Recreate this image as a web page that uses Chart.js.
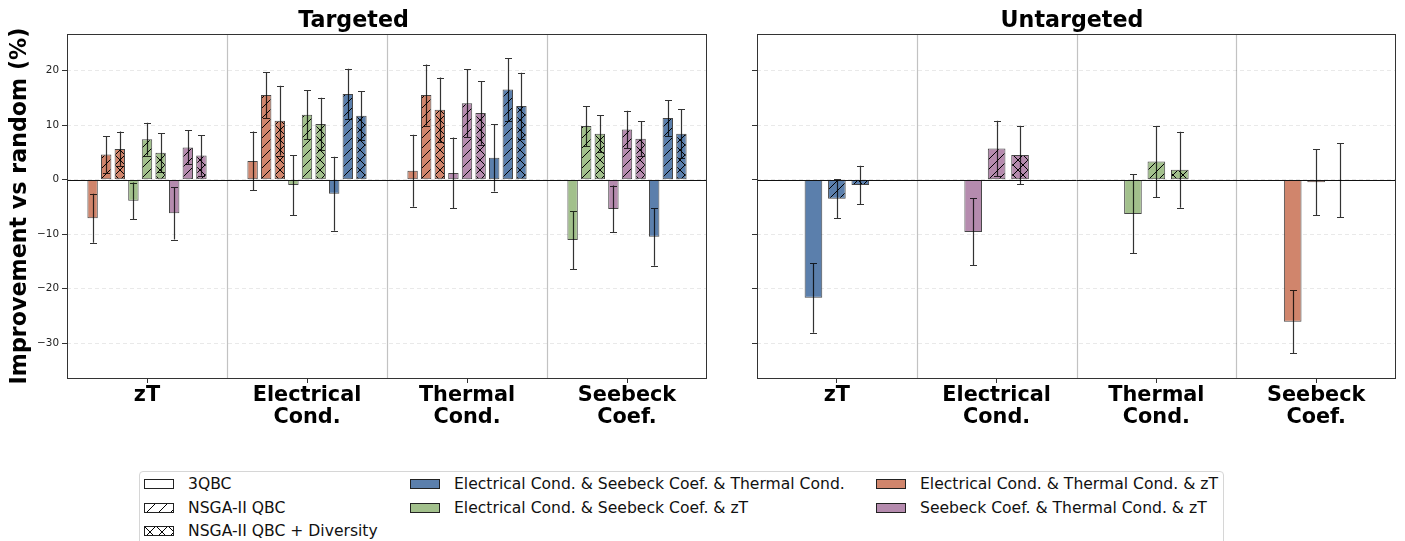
<!DOCTYPE html>
<html>
<head>
<meta charset="utf-8">
<script src="https://cdn.jsdelivr.net/npm/chart.js@4.4.1/dist/chart.umd.min.js"></script>
<style>
  html, body { margin: 0; padding: 0; background: #fff; }
  body { width: 1405px; height: 541px; position: relative; overflow: hidden; font-family: 'DejaVu Sans', sans-serif; }
  .panel { position: absolute; top: 0; height: 450px; }
  #legend {
    position: absolute; left: 139px; top: 471px; width: 1083px; height: 90px;
    border: 1px solid #d6d6d6; border-radius: 4px; background: #fff;
  }
  .item { position: absolute; height: 20px; font-size: 15.6px; color: #111; white-space: nowrap; }
  .item canvas { position: absolute; left: 0; top: 5px; }
  .item span { position: absolute; left: 44px; top: 0; line-height: 20px; }
</style>
</head>
<body>
<div class="panel" style="left:0; width:774px;"><canvas id="targeted"></canvas></div>
<div class="panel" style="left:748px; width:657px;"><canvas id="untargeted"></canvas></div>
<div id="legend"></div>
<script>
// Groupes (cibles) et méthodes
const groupLabels = [['zT'], ['Electrical', 'Cond.'], ['Thermal', 'Cond.'], ['Seebeck', 'Coef.']];
const methodNames = ['3QBC', 'NSGA-II QBC', 'NSGA-II QBC + Diversity'];
const comboNames = [
  'Electrical Cond. & Thermal Cond. & zT',
  'Electrical Cond. & Seebeck Coef. & zT',
  'Seebeck Coef. & Thermal Cond. & zT',
  'Electrical Cond. & Seebeck Coef. & Thermal Cond.',
];
const comboColors = ['#d0856c', '#a2c08c', '#b58bae', '#5b7fac'];
const methodHatches = ['', '/', 'x'];

const yTicks = [-30, -20, -10, 0, 10, 20];
const yMin = -36.4;
const yMax = 26.7;

// Targeted — lignes = méthodes, colonnes = zT, Electrical, Thermal, Seebeck
const tgtEcTcZt = [[-7.1, 3.4, 1.6, null], [4.6, 15.5, 15.5, null], [5.6, 10.8, 12.8, null]];
const tgtEcTcZtErr = [[4.5, 5.4, 6.6, null], [3.35, 4.2, 5.6, null], [3.2, 6.4, 5.9, null]];
const tgtEcScZt = [[-3.9, -1.0, null, -11.1], [7.4, 11.9, null, 9.8], [4.9, 10.2, null, 8.4]];
const tgtEcScZtErr = [[3.35, 5.5, null, 5.3], [3.0, 4.5, null, 3.7], [3.6, 4.8, null, 3.4]];
const tgtScTcZt = [[-6.2, null, 1.2, -5.4], [5.9, null, 14.0, 9.2], [4.4, null, 12.2, 7.5]];
const tgtScTcZtErr = [[4.8, null, 6.5, 4.3], [3.1, null, 6.2, 3.4], [3.7, null, 5.8, 3.2]];
const tgtEcScTc = [[null, -2.6, 4.0, -10.5], [null, 15.7, 16.5, 11.3], [null, 11.7, 13.5, 8.4]];
const tgtEcScTcErr = [[null, 6.8, 6.2, 5.3], [null, 4.6, 5.8, 3.3], [null, 4.5, 6.1, 4.5]];

// Untargeted
const untEcTcZt = [[null, null, null, -26.1], [null, null, null, -0.5], [null, null, null, -0.1]];
const untEcTcZtErr = [[null, null, null, 5.8], [null, null, null, 6.05], [null, null, null, 6.8]];
const untEcScZt = [[null, null, -6.3, null], [null, null, 3.3, null], [null, null, 1.8, null]];
const untEcScZtErr = [[null, null, 7.25, null], [null, null, 6.5, null], [null, null, 6.95, null]];
const untScTcZt = [[null, -9.6, null, null], [null, 5.7, null, null], [null, 4.5, null, null]];
const untScTcZtErr = [[null, 6.15, null, null], [null, 5.1, null, null], [null, 5.35, null, null]];
const untEcScTc = [[-21.7, null, null, null], [-3.5, null, null, null], [-1.0, null, null, null]];
const untEcScTcErr = [[6.4, null, null, null], [3.6, null, null, null], [3.55, null, null, null]];

const FONT = "'DejaVu Sans', sans-serif";

// Motif de remplissage hachuré (façon matplotlib)
function makeFill(color, hatch, size = 10) {
  const c = document.createElement('canvas');
  c.width = c.height = size;
  const g = c.getContext('2d');
  g.fillStyle = color;
  g.fillRect(0, 0, size, size);
  if (!hatch) return g.createPattern(c, 'repeat');
  g.strokeStyle = '#000';
  g.lineWidth = 1;
  g.beginPath();
  for (const k of [-size, 0, size]) {
    g.moveTo(k - 1, size + 1);
    g.lineTo(k + size + 1, -1);
    if (hatch === 'x') {
      g.moveTo(k - 1, -1);
      g.lineTo(k + size + 1, size + 1);
    }
  }
  g.stroke();
  return g.createPattern(c, 'repeat');
}

function buildDatasets(means, errs) {
  const sets = [];
  comboNames.forEach((combo, c) => {
    methodNames.forEach((method, m) => {
      sets.push({
        label: combo + ' | ' + method,
        data: means[c][m],
        errors: errs[c][m],
        backgroundColor: makeFill(comboColors[c], methodHatches[m]),
        borderColor: 'rgba(0,0,0,0.72)',
        borderWidth: 1,
        borderSkipped: false,
      });
    });
  });
  return sets;
}

// Séparateurs, ligne zéro, barres d'erreur, cadre
const panelDecor = {
  id: 'panelDecor',
  beforeDatasetsDraw(chart) {
    const { ctx, chartArea: a, scales: { x } } = chart;
    ctx.save();
    ctx.strokeStyle = 'rgba(0,0,0,0.24)';
    ctx.lineWidth = 1.2;
    for (let i = 0; i < groupLabels.length - 1; i++) {
      const px = Math.round((x.getPixelForValue(i) + x.getPixelForValue(i + 1)) / 2) + 0.5;
      ctx.beginPath();
      ctx.moveTo(px, a.top);
      ctx.lineTo(px, a.bottom);
      ctx.stroke();
    }
    ctx.restore();
  },
  afterDatasetsDraw(chart) {
    const { ctx, chartArea: a, scales: { y } } = chart;
    ctx.save();
    const y0 = Math.round(y.getPixelForValue(0)) + 0.5;
    ctx.strokeStyle = '#111';
    ctx.lineWidth = 1;
    ctx.beginPath();
    ctx.moveTo(a.left, y0);
    ctx.lineTo(a.right, y0);
    ctx.stroke();

    ctx.strokeStyle = 'rgba(0,0,0,0.8)';
    ctx.lineWidth = 1.2;
    chart.data.datasets.forEach((ds, i) => {
      const meta = chart.getDatasetMeta(i);
      ds.data.forEach((v, j) => {
        if (v === null) return;
        const e = ds.errors[j];
        const bx = Math.round(meta.data[j].x) + 0.5;
        const top = y.getPixelForValue(v + e);
        const bot = y.getPixelForValue(v - e);
        ctx.beginPath();
        ctx.moveTo(bx, top);
        ctx.lineTo(bx, bot);
        ctx.moveTo(bx - 3.5, Math.round(top) + 0.5);
        ctx.lineTo(bx + 3.5, Math.round(top) + 0.5);
        ctx.moveTo(bx - 3.5, Math.round(bot) + 0.5);
        ctx.lineTo(bx + 3.5, Math.round(bot) + 0.5);
        ctx.stroke();
      });
    });
    ctx.restore();
  },
  afterDraw(chart) {
    const { ctx, chartArea: a } = chart;
    ctx.save();
    ctx.strokeStyle = '#333';
    ctx.lineWidth = 1;
    ctx.strokeRect(Math.round(a.left) + 0.5, Math.round(a.top) + 0.5,
      Math.round(a.right - a.left) - 1, Math.round(a.bottom - a.top));
    ctx.restore();
  },
};

function makePanel(id, title, means, errs, opt) {
  const ctx = document.getElementById(id).getContext('2d');
  return new Chart(ctx, {
    type: 'bar',
    data: { labels: groupLabels, datasets: buildDatasets(means, errs) },
    options: {
      animation: false,
      events: [],
      responsive: true,
      maintainAspectRatio: false,
      skipNull: true,
      categoryPercentage: opt.catPct,
      barPercentage: opt.barPct,
      layout: { padding: { left: 0, right: opt.padRight, top: 0, bottom: 0 } },
      plugins: {
        legend: { display: false },
        tooltip: { enabled: false },
        title: {
          display: true,
          text: title,
          color: '#000',
          font: { family: FONT, size: 22.2, weight: 'bold', lineHeight: 0.9 },
          padding: { top: 11, bottom: 3 },
        },
      },
      scales: {
        x: {
          offset: true,
          grid: { offset: false, drawOnChartArea: false, drawTicks: true, tickLength: 5, tickColor: '#333', tickWidth: 1 },
          border: { display: false },
          ticks: {
            autoSkip: false, maxRotation: 0, padding: 1.5, color: '#000',
            font: { family: FONT, size: 20.8, weight: 'bold', lineHeight: 1.072 },
          },
          afterFit(scale) { scale.height = 72; },
        },
        y: {
          min: yMin,
          max: yMax,
          afterBuildTicks(scale) { scale.ticks = yTicks.map(v => ({ value: v })); },
          grid: {
            color: 'rgba(0,0,0,0.11)', lineWidth: 0.8,
            tickColor: '#333', tickLength: 5, tickWidth: 1, tickBorderDash: [],
          },
          border: { display: false, dash: [4, 3] },
          ticks: {
            padding: 3, color: '#222',
            font: { family: FONT, size: 10.4 },
            callback: v => (opt.showY ? String(v).replace('-', '\u2212') : ''),
          },
          title: {
            display: opt.showY,
            text: 'Improvement vs random (%)',
            color: '#000',
            font: { family: FONT, size: 22.2, weight: 'bold', lineHeight: 1 },
            padding: { top: 9, bottom: 0 },
          },
          afterFit(scale) { scale.width = opt.yWidth; },
        },
      },
    },
    plugins: [panelDecor],
  });
}

makePanel('targeted', 'Targeted',
  [tgtEcTcZt, tgtEcScZt, tgtScTcZt, tgtEcScTc],
  [tgtEcTcZtErr, tgtEcScZtErr, tgtScTcZtErr, tgtEcScTcErr],
  { yWidth: 67, padRight: 67, showY: true, catPct: 0.765, barPct: 0.765 });

makePanel('untargeted', 'Untargeted',
  [untEcTcZt, untEcScZt, untScTcZt, untEcScTc],
  [untEcTcZtErr, untEcScZtErr, untScTcZtErr, untEcScTcErr],
  { yWidth: 9, padRight: 9, showY: false, catPct: 0.44, barPct: 0.753 });

// Légende HTML (3 colonnes)
function legendItem(left, top, fill, text) {
  const div = document.createElement('div');
  div.className = 'item';
  div.style.left = left + 'px';
  div.style.top = top + 'px';
  const c = document.createElement('canvas');
  c.width = 30; c.height = 10;
  const g = c.getContext('2d');
  g.fillStyle = fill;
  g.fillRect(0, 0, 30, 10);
  g.strokeStyle = '#222';
  g.lineWidth = 1;
  g.strokeRect(0.5, 0.5, 29, 9);
  div.appendChild(c);
  const s = document.createElement('span');
  s.textContent = text;
  div.appendChild(s);
  document.getElementById('legend').appendChild(div);
}

const rowTops = [2, 25.5, 49];
const colLefts = [4, 270, 736];
methodNames.forEach((m, i) => legendItem(colLefts[0], rowTops[i], makeFill('#fff', methodHatches[i], 12), m));
const legendCombos = [...comboNames].sort();
legendCombos.forEach((combo, i) => {
  const c = comboNames.indexOf(combo);
  legendItem(colLefts[1 + Math.floor(i / 2)], rowTops[i % 2], comboColors[c], combo);
});
</script>
</body>
</html>
